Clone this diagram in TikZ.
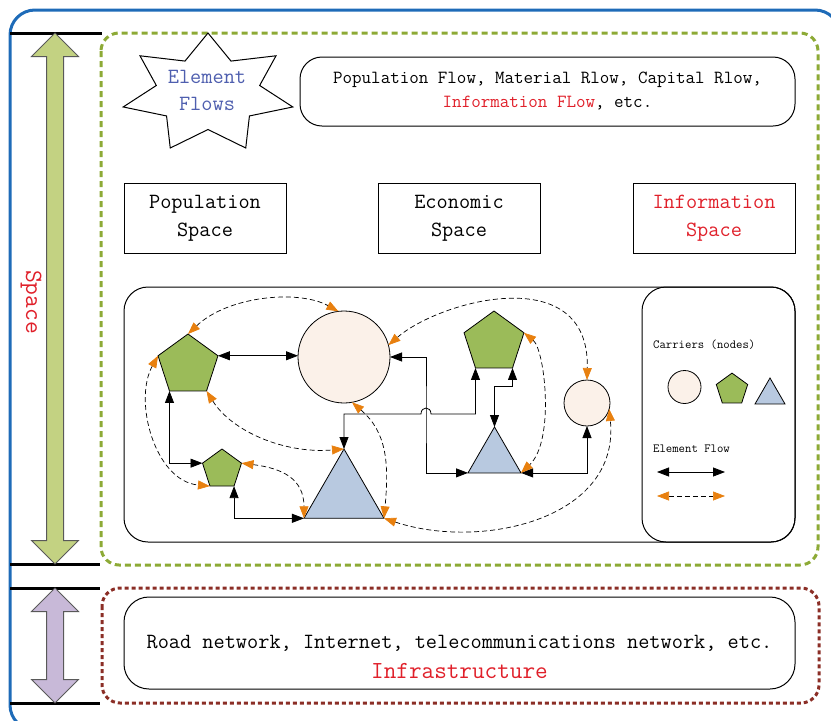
\documentclass[tikz,border=0pt]{standalone}
\usepackage{tikz}
\usetikzlibrary{positioning,arrows.meta,shapes.geometric,shapes.arrows}
\usepackage{xcolor}

\definecolor{frameblue}{HTML}{1E6BB8}
\definecolor{framegreen}{HTML}{8DAA36}
\definecolor{framered}{HTML}{8B2E26}
\definecolor{arrgreen}{HTML}{C3D282}
\definecolor{arrpurple}{HTML}{C8B9D8}
\definecolor{pentafill}{HTML}{9BBB59}
\definecolor{trifill}{HTML}{B8C9E0}
\definecolor{circfill}{HTML}{FBF1E9}
\definecolor{tipor}{HTML}{E8800F}
\definecolor{txtred}{HTML}{E0202A}
\definecolor{txtblue}{HTML}{4F5FAF}

\newcommand{\txtsize}[2]{\fontsize{#1}{#2}\selectfont\ttfamily}

\begin{document}
\begin{tikzpicture}[x=1pt,y=-1pt,
    spacebox/.style={draw,line width=1pt,minimum width=162,minimum height=70,align=center,font=\txtsize{21.7}{28}},
    roundbox/.style={draw,line width=1pt,rounded corners=22,align=center},
    penta/.style={draw,line width=0.8pt,regular polygon,regular polygon sides=5,fill=pentafill,inner sep=0,outer sep=0},
    tri/.style={draw,line width=0.8pt,regular polygon,regular polygon sides=3,fill=trifill,inner sep=0,outer sep=0},
    carrier/.style={draw,line width=0.8pt,circle,fill=circfill,inner sep=0,outer sep=0},
    dblarrow/.style={double arrow,rotate=90,draw=black!65,line width=1pt,inner sep=8,double arrow head extend=15,outer sep=0},
    bar/.style={line width=3pt},
    flow/.style={{Triangle[length=12pt,width=9pt]}-{Triangle[length=12pt,width=9pt]},line width=0.8pt},
    link/.style={{Triangle[length=12pt,width=9pt,color=tipor]}-{Triangle[length=12pt,width=9pt,color=tipor]},dash pattern=on 5pt off 3pt,line width=0.7pt},
    legend/.style={font=\txtsize{12.4}{15},anchor=west,inner sep=0}
  ]
    \useasboundingbox (0,0) rectangle (831,721);
    \clip (0,0) rectangle (831,721);

    % frames
    \draw[frameblue,line width=3pt,rounded corners=25] (10,10) rectangle (840,730);
    \draw[framegreen,line width=3pt,dash pattern=on 6pt off 4pt,rounded corners=18] (101,33) rectangle (818,565);
    \draw[framered,line width=3pt,dash pattern=on 4pt off 3pt,rounded corners=18] (102,588) rectangle (819,703);

    % space / infrastructure scale
    \draw[bar] (10,33) -- (102,33);
    \draw[bar] (10,564) -- (100,564);
    \draw[bar] (10,588) -- (100,588);
    \draw[bar] (10,703) -- (100,703);
    \node[dblarrow,fill=arrgreen,minimum height=531] (spacearr) at (55,298.5) {};
    \node[dblarrow,fill=arrpurple,minimum height=115] (infraarr) at (55,645.5) {};
    \node[rotate=-90,text=txtred,font=\txtsize{24.8}{30}] (spacelbl) at (31,302) {Space};

    % element flows
    \draw[line width=1pt,fill=white] plot[samples at={0,...,13}]
      ({208+ifthenelse(mod(\x,2)==0,87,53)*cos(90+\x*360/14)},
       {93.5-ifthenelse(mod(\x,2)==0,60.5,36)*sin(90+\x*360/14)}) -- cycle;
    \node[align=center,text=txtblue,font=\txtsize{21.7}{27}] (elemflow) at (207,90.5) {Element\\Flows};
    \node[roundbox,minimum width=495,minimum height=69,font=\txtsize{18.5}{24}] (flowbox) at (547.5,91.5)
      {Population Flow, Material Rlow, Capital Rlow,\\\textcolor{txtred}{Information FLow}, etc.};

    % spaces
    \node[spacebox] (popspace) at (205,218) {Population\\Space};
    \node[spacebox] (ecospace) at (459,218) {Economic\\Space};
    \node[spacebox,text=txtred] (infspace) at (714,218) {Information\\Space};

    % network
    \node[roundbox,rounded corners=24,minimum width=671,minimum height=255] (netbox) at (459.5,414.5) {};
    \node[roundbox,rounded corners=24,minimum width=153,minimum height=255] (legendbox) at (718.5,414.5) {};

    \node[penta,minimum size=63] (p1) at (188,365.5) {};
    \node[penta,minimum size=41] (p2) at (222,469.5) {};
    \node[penta,minimum size=63] (p3) at (494,342.5) {};
    \node[carrier,minimum size=92] (c1) at (344,357) {};
    \node[carrier,minimum size=46] (c2) at (587,403) {};
    \node[tri,minimum size=92.4] (t1) at (344,495.2) {};
    \node[tri,minimum size=61.2] (t2) at (494.5,457.6) {};

    \coordinate (hopl) at (421,414);
    \coordinate (hopc) at (426,414);
    \coordinate (hopr) at (431,414);

    \draw[flow] (p1.corner 5) -- (p1.corner 5 -| c1.west);
    \draw[flow] (c1.east) -| (hopc) |- (t2.corner 2);
    \draw[flow] (t1.corner 1) |- (hopl) .. controls +(0,-8) and +(0,-8) .. (hopr) -| (p3.corner 3);
    \draw[flow] (p3.corner 4) -- ++(0,18) -| (t2.corner 1);
    \draw[flow] (t2.corner 3) -| (c2.south);
    \draw[flow] (p1.corner 3) |- (p2.corner 2);
    \draw[flow] (p2.corner 4) |- (t1.corner 2);

    \draw[link] (p1.corner 1) .. controls +(40,-38) and +(-40,-22) .. (c1.97);
    \draw[link] (p1.corner 2) .. controls +(-25,45) and +(-55,-5) .. (p2.corner 3);
    \draw[link] (p1.corner 4) .. controls +(25,40) and +(-60,5) .. (t1.corner 1);
    \draw[link] (p2.corner 5) .. controls +(40,5) and +(0,-40) .. (t1.corner 2);
    \draw[link] (c1.-80) .. controls +(35,30) and +(5,-55) .. (t1.corner 3);
    \draw[link] (t1.corner 3) .. controls +(96,32) and +(11,111) .. (c2.-15);
    \draw[link] (c1.15) .. controls +(52,-45) and +(3,-120) .. (c2.north);
    \draw[link] (p3.corner 5) .. controls +(21,17) and +(34,-32) .. (t2.corner 3);

    % legend
    \node[legend] (lgcarr) at (653,345) {Carriers (nodes)};
    \node[carrier,minimum size=33] (lgc) at (684.5,387) {};
    \node[penta,minimum size=33] (lgp) at (732,389.6) {};
    \node[tri,minimum size=34.6] (lgt) at (770,395.3) {};
    \node[legend] (lgflow) at (653,449) {Element Flow};
    \coordinate (fa1) at (657,472);
    \coordinate (fa2) at (725,472);
    \coordinate (fb1) at (657,496);
    \coordinate (fb2) at (725,496);
    \draw[flow] (fa1) -- (fa2);
    \draw[link] (fb1) -- (fb2);

    % infrastructure
    \node[roundbox,rounded corners=25,minimum width=671,minimum height=92] (infrabox) at (459.5,643) {};
    \node[align=center,font=\txtsize{21.7}{30}] (infratxt) at (459.5,657)
      {Road network, Internet, telecommunications network, etc.\\{\color{txtred}\txtsize{24.5}{30}Infrastructure}};
  \end{tikzpicture}
\end{document}
